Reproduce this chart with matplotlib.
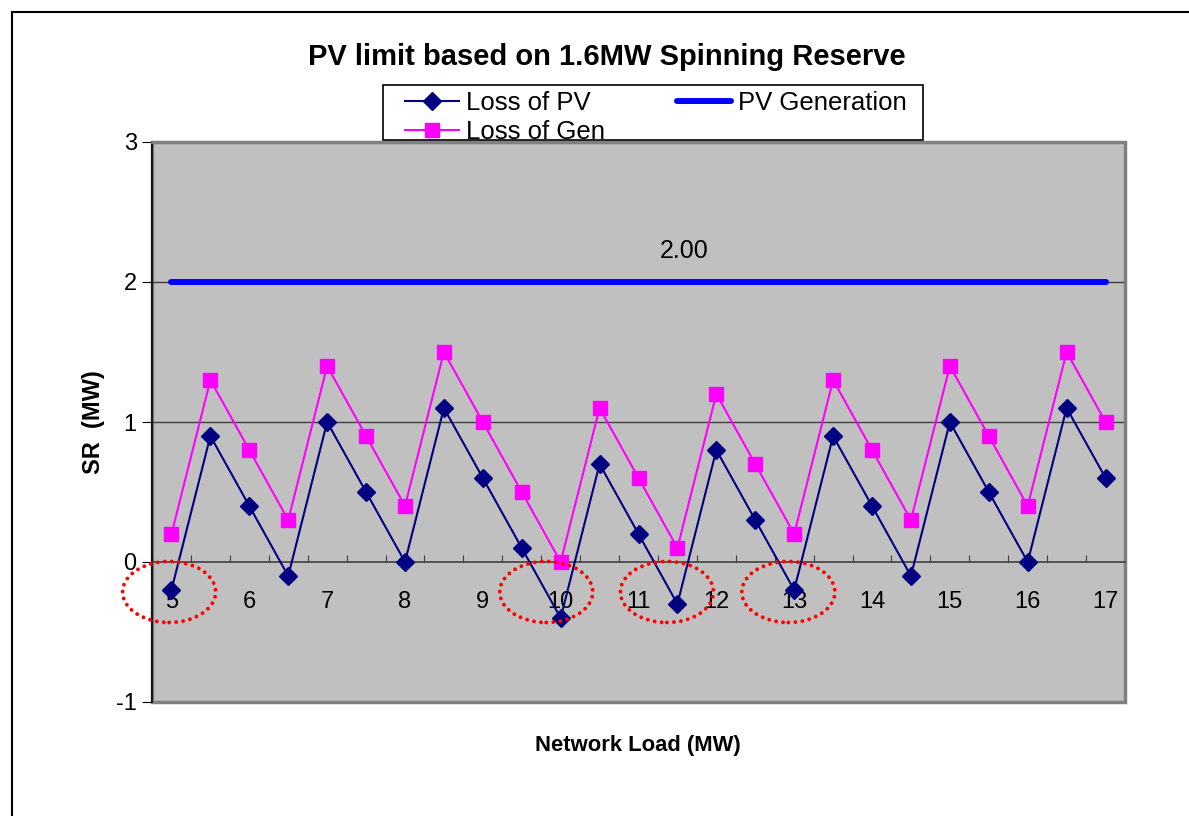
import numpy as np
import matplotlib
matplotlib.use("Agg")
import matplotlib.pyplot as plt
from matplotlib.patches import Ellipse, Rectangle

plt.rcParams['font.family'] = ['Liberation Sans', 'DejaVu Sans']
plt.rcParams['axes.unicode_minus'] = False

# network load categories (MW)
load = [5, 5.5, 6, 6.5, 7, 7.5, 8, 8.5, 9, 9.5, 10, 10.5, 11, 11.5, 12,
        12.5, 13, 13.5, 14, 14.5, 15, 15.5, 16, 16.5, 17]
loss_pv = [-0.2, 0.9, 0.4, -0.1, 1.0, 0.5, 0.0, 1.1, 0.6, 0.1, -0.4, 0.7, 0.2,
           -0.3, 0.8, 0.3, -0.2, 0.9, 0.4, -0.1, 1.0, 0.5, 0.0, 1.1, 0.6]
loss_gen = [0.2, 1.3, 0.8, 0.3, 1.4, 0.9, 0.4, 1.5, 1.0, 0.5, 0.0, 1.1, 0.6,
            0.1, 1.2, 0.7, 0.2, 1.3, 0.8, 0.3, 1.4, 0.9, 0.4, 1.5, 1.0]
pv_gen = [2.0] * len(load)
label_idx = 13

# highlighted cases (category index, SR)
circle_x = [-0.06, 9.63, 12.73, 15.85]
circle_y = [-0.214, -0.214, -0.214, -0.214]

x = np.arange(len(load))

fig = plt.figure(figsize=(11.89, 8.16), dpi=100)
ax = fig.add_axes([152/1189, 1-702/816, 973/1189, 560/816])
ax.set_facecolor('#C0C0C0')

ax.set_xlim(-0.5, len(load)-0.5)
ax.set_ylim(-1, 3)

for yv in [1, 2]:
    ax.axhline(yv, color='#404040', lw=1, zorder=1)

ax.plot(x, pv_gen, color='#0000FF', lw=4.3, solid_capstyle='round', zorder=3, label='PV Generation')
ax.plot(x, loss_gen, color='#FF00FF', lw=1.5, marker='s', ms=10, zorder=4, label='Loss of Gen')
ax.plot(x, loss_pv, color='#000080', lw=1.5, marker='D', ms=9.3, zorder=5, label='Loss of PV')

ax.annotate('%.2f' % pv_gen[label_idx], (x[label_idx], pv_gen[label_idx]),
            xytext=(5, 14), textcoords='offset points', ha='center', va='bottom', fontsize=18)

for cx, cy in zip(circle_x, circle_y):
    e = Ellipse((cx, cy), 2.39, 0.436, fill=False, ec='#FF0000', lw=2.8,
                linestyle=(0, (0.01, 1.8)), zorder=6, clip_on=False)
    e.set_capstyle('round')
    ax.add_patch(e)

# spines: x axis crosses at 0
for s in ['top', 'right']:
    ax.spines[s].set_color('#808080')
    ax.spines[s].set_linewidth(2)
ax.spines['left'].set_color('black')
ax.spines['left'].set_linewidth(1.2)
ax.spines['bottom'].set_position(('data', 0))
ax.spines['bottom'].set_color('#404040')
ax.spines['bottom'].set_linewidth(1.2)
ax.add_patch(Rectangle((0, 0), 1, 1, transform=ax.transAxes, fill=False,
                       ec='#808080', lw=2.5, zorder=0.5, clip_on=False))

ax.set_xticks(np.arange(-0.5, len(load), 1))
ax.set_xticklabels([])
ax.tick_params(axis='x', which='major', direction='in', length=5, color='#404040')
ax.set_xticks(x[::2], minor=True)
ax.set_xticklabels(['%g' % v for v in load[::2]], minor=True)
ax.tick_params(axis='x', which='minor', length=0, pad=21, labelsize=17)

ax.set_yticks([-1, 0, 1, 2, 3])
ax.tick_params(axis='y', direction='out', length=7, color='black', labelsize=17, pad=4)

ax.set_ylabel('SR  (MW)', fontsize=17, fontweight='bold', labelpad=8)
fig.text(638/1189, 1-745/816, 'Network Load (MW)', fontsize=15.8, fontweight='bold',
         ha='center', va='center')
fig.text(607/1189, 1-57/816, 'PV limit based on 1.6MW Spinning Reserve', fontsize=21,
         fontweight='bold', ha='center', va='center')

h, l = ax.get_legend_handles_labels()
order = [2, 1, 0]
leg = fig.legend([h[i] for i in order], [l[i] for i in order], ncol=2,
                 loc='upper left', bbox_to_anchor=(405/1189, 1-91/816),
                 fontsize=18.5, frameon=False, borderpad=0,
                 labelspacing=0.2, handlelength=2.1, handletextpad=0.27,
                 columnspacing=2.8, borderaxespad=0)
fig.add_artist(Rectangle((383/1189, 1-140/816), 540/1189, 55/816, transform=fig.transFigure,
                         fill=False, ec='black', lw=1.2))

fig.add_artist(Rectangle((12/1189, -0.1), 1.2, 1-12/816+0.1, transform=fig.transFigure,
                         fill=False, ec='black', lw=1.5))

fig.savefig('out.png', dpi=100)
